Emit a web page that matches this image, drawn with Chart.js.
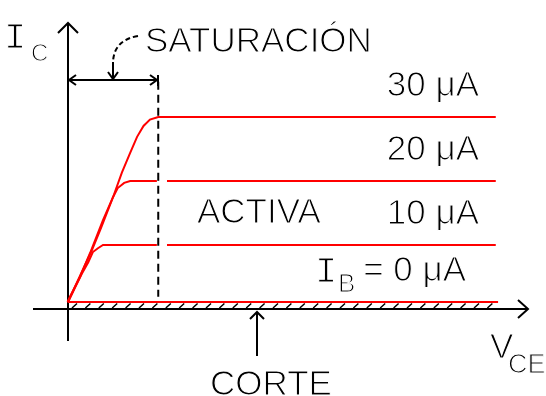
<!DOCTYPE html>
<html>
<head>
<meta charset="utf-8">
<script src="https://cdn.jsdelivr.net/npm/chart.js@4/dist/chart.umd.min.js"></script>
<style>
  html, body { margin: 0; padding: 0; background: #fff; }
  #wrap { width: 546px; height: 396px; position: relative; }
</style>
</head>
<body>
<div id="wrap"><canvas id="bjt"></canvas></div>
<script>
// ── curves: VCE (V) vs IC (mA) ──
const vce30 = [0, 0.05, 0.27, 0.49, 0.77, 0.99, 1.18, 1.36, 1.51, 1.65, 1.79, 1.97, 9.3];
const ic30  = [0.11, 0.19, 0.5, 0.875, 1.39, 1.75, 2.13, 2.44, 2.69, 2.86, 2.96, 3.0, 3.0];
const vce20 = [0.01, 0.10, 0.31, 0.53, 0.73, 0.88, 0.99, 1.09, 1.23, 1.36, 1.94, 2.05, 2.16, 9.3];
const ic20  = [0.11, 0.25, 0.58, 0.92, 1.27, 1.55, 1.75, 1.89, 1.97, 2.0, 2.0, null, 2.0, 2.0];
const vce10 = [0.01, 0.14, 0.31, 0.45, 0.55, 0.66, 0.77, 1.94, 2.05, 2.16, 9.3];
const ic10  = [0.11, 0.30, 0.55, 0.73, 0.89, 0.95, 1.0, 1.0, null, 1.0, 1.0];
const vce0  = [0, 9.35];
const ic0   = [0.11, 0.11];

// saturation boundary
const vceSat = [1.97, 1.97];
const icSat  = [3.55, 0.19];

const IB_LABELS = ['30 μA', '20 μA', '10 μA'];
const IB_LEVELS = [3.0, 2.0, 1.0];

const RED = '#ff0000';
const LABEL_FONT = '35px "Liberation Sans"';

const pts = (xs, ys) => xs.map((x, i) => ({ x, y: ys[i] }));

function curve(xs, ys) {
  return {
    data: pts(xs, ys),
    showLine: true,
    borderColor: RED,
    borderWidth: 2,
    pointRadius: 0,
    tension: 0,
    spanGaps: false,
  };
}

function arrowHead(ctx, tipX, tipY, dx, dy, len, half) {
  // dx,dy = unit direction the arrow points
  const bx = tipX - dx * len, by = tipY - dy * len;
  ctx.beginPath();
  ctx.moveTo(bx - dy * half, by + dx * half);
  ctx.lineTo(tipX, tipY);
  ctx.lineTo(bx + dy * half, by - dx * half);
  ctx.stroke();
}

// thin-stroke text: fill, then shave the edges with white
function thinText(ctx, t, px, py) {
  ctx.fillText(t, px, py);
  ctx.save();
  ctx.strokeStyle = '#fff';
  ctx.lineWidth = 1.1;
  ctx.setLineDash([]);
  ctx.strokeText(t, px, py);
  ctx.restore();
}

const decor = {
  id: 'decor',
  beforeDatasetsDraw(chart) {
    const { ctx, scales: { x, y } } = chart;
    const x0 = Math.round(x.getPixelForValue(0)), y0 = Math.round(y.getPixelForValue(0));
    ctx.save();
    ctx.strokeStyle = '#000';
    ctx.lineWidth = 2;
    ctx.lineCap = 'butt';
    // axes
    ctx.beginPath();
    ctx.moveTo(x0, chart.chartArea.bottom);
    ctx.lineTo(x0, chart.chartArea.top + 2);
    ctx.moveTo(chart.chartArea.left, y0);
    ctx.lineTo(chart.chartArea.right, y0);
    ctx.stroke();
    arrowHead(ctx, x0, chart.chartArea.top + 2, 0, -1, 10, 10);
    arrowHead(ctx, chart.chartArea.right, y0, 1, 0, 10, 9);

    // cut-off hatch between IB=0 curve and axis
    const yTop = y.getPixelForValue(ic0[0]) + 1.5;
    ctx.lineWidth = 1.5;
    ctx.beginPath();
    for (let px = x0 + 4; px < x.getPixelForValue(vce0[1]); px += 13.4) {
      ctx.moveTo(px, y0 - 1);
      ctx.lineTo(px + 5, yTop);
    }
    ctx.stroke();
    ctx.restore();
  },
  afterDatasetsDraw(chart) {
    const { ctx, scales: { x, y } } = chart;
    const x0 = Math.round(x.getPixelForValue(0)), y0 = Math.round(y.getPixelForValue(0));
    const xs = Math.round(x.getPixelForValue(vceSat[0]));
    ctx.save();
    ctx.strokeStyle = '#000';
    ctx.fillStyle = '#000';
    ctx.lineWidth = 2;

    // saturation width marker
    const ya = 80;
    ctx.beginPath();
    ctx.moveTo(x0, ya); ctx.lineTo(xs, ya);
    ctx.moveTo(xs, ya - 5); ctx.lineTo(xs, ya + 6);
    ctx.stroke();
    arrowHead(ctx, x0 + 1, ya, -1, 0, 7, 5);
    arrowHead(ctx, xs - 1, ya, 1, 0, 7, 5);

    // leader from SATURACIÓN label
    ctx.beginPath();
    ctx.setLineDash([5, 3]);
    ctx.moveTo(138, 36);
    ctx.quadraticCurveTo(114, 40, 113, 62);
    ctx.stroke();
    ctx.setLineDash([]);
    ctx.beginPath();
    ctx.moveTo(113, 62); ctx.lineTo(113, ya - 1);
    ctx.stroke();
    arrowHead(ctx, 113, ya - 1, 0, 1, 7, 5);

    // corte pointer
    const xc = 257;
    ctx.beginPath();
    ctx.moveTo(xc, y0 + 3); ctx.lineTo(xc, y0 + 47);
    ctx.stroke();
    arrowHead(ctx, xc, y0 + 3, 0, -1, 7, 7);

    // labels
    ctx.font = LABEL_FONT;
    ctx.textBaseline = 'alphabetic';
    ctx.textAlign = 'left';
    thinText(ctx, 'SATURACIÓN', 145, 52);
    thinText(ctx, 'ACTIVA', 197, 223);
    thinText(ctx, 'CORTE', 210, 395);

    ctx.textAlign = 'right';
    IB_LABELS.forEach((t, i) => {
      thinText(ctx, t, 479, y.getPixelForValue(IB_LEVELS[i]) - 21);
    });
    thinText(ctx, '= 0 μA', 466, 281);

    // I_B
    ctx.textAlign = 'left';
    ctx.font = '37px "Liberation Mono"';
    thinText(ctx, 'I', 315, 282);
    ctx.font = '26px "Liberation Sans"';
    thinText(ctx, 'B', 338, 292);

    // I_C
    ctx.font = '37px "Liberation Mono"';
    thinText(ctx, 'I', 4, 48);
    ctx.font = '24px "Liberation Sans"';
    thinText(ctx, 'C', 31, 61);

    // V_CE
    ctx.font = '35px "Liberation Sans"';
    thinText(ctx, 'V', 490, 358);
    ctx.font = '27px "Liberation Sans"';
    thinText(ctx, 'CE', 508, 373);
    ctx.restore();
  },
};

new Chart(document.getElementById('bjt'), {
  type: 'scatter',
  data: {
    datasets: [
      curve(vce0, ic0),
      curve(vce10, ic10),
      curve(vce20, ic20),
      curve(vce30, ic30),
      {
        data: pts(vceSat, icSat),
        showLine: true,
        borderColor: '#000',
        borderWidth: 2,
        borderDash: [8, 5],
        pointRadius: 0,
      },
    ],
  },
  options: {
    responsive: true,
    maintainAspectRatio: false,
    animation: false,
    layout: { padding: { left: 33, right: 18, top: 21, bottom: 55 } },
    scales: {
      x: { type: 'linear', min: -0.75, max: 10, display: false },
      y: { type: 'linear', min: -0.5, max: 4.5, display: false },
    },
    plugins: {
      legend: { display: false },
      tooltip: { enabled: false },
    },
  },
  plugins: [decor],
});
</script>
</body>
</html>
